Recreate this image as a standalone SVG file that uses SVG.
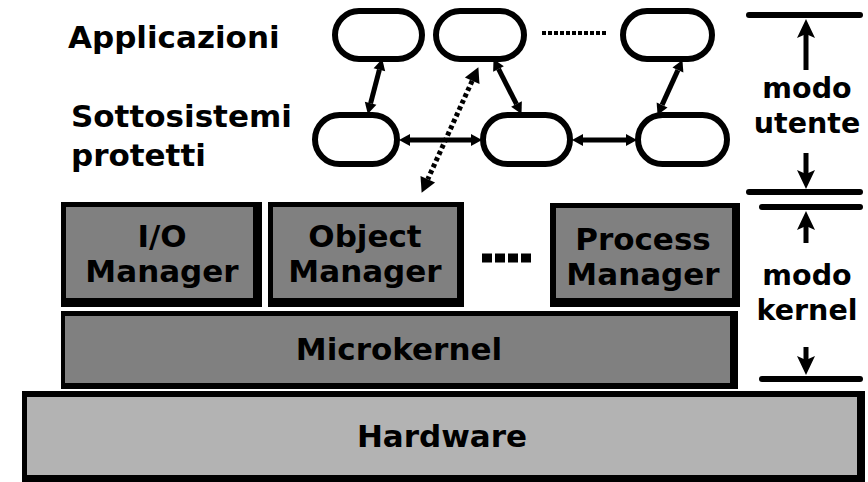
<svg xmlns="http://www.w3.org/2000/svg" width="868" height="482" viewBox="0 0 868 482">
  <style>
    .lbl { font-family: "DejaVu Sans", Verdana, sans-serif; font-weight: bold; fill: #000; }
    .big { font-size: 31px; }
    .side { font-size: 28.5px; text-anchor: middle; }
    .mid { text-anchor: middle; }
    .pill { fill: #fff; stroke: #000; stroke-width: 6; }
    .shadow { fill: #000; }
    .dark { fill: #808080; }
    .light { fill: #b3b3b3; }
    .link { stroke: #000; stroke-width: 5; fill: none; marker-start: url(#head); marker-end: url(#head); }
    .dotted { stroke: #000; stroke-width: 5; fill: none; stroke-dasharray: 4 3; marker-start: url(#bighead); marker-end: url(#bighead); }
    .bar { stroke: #000; stroke-width: 6; stroke-linecap: round; }
    .shaft { stroke: #000; stroke-width: 5; }
    .tip { fill: #000; }
  </style>
  <defs>
    <marker id="head" markerUnits="userSpaceOnUse" markerWidth="12" markerHeight="12" refX="0" refY="6" orient="auto-start-reverse" overflow="visible">
      <path d="M0,0 L11,6 L0,12 Z" fill="#000"/>
    </marker>
    <marker id="bighead" markerUnits="userSpaceOnUse" markerWidth="16" markerHeight="16" refX="0" refY="8" orient="auto-start-reverse" overflow="visible">
      <path d="M0,0 L15,8 L0,16 Z" fill="#000"/>
    </marker>
  </defs>

  <!-- left captions -->
  <text class="lbl big" x="68" y="48">Applicazioni</text>
  <text class="lbl big" x="71" y="127">Sottosistemi</text>
  <text class="lbl big" x="71" y="166">protetti</text>

  <!-- user-mode processes -->
  <g id="app1"><rect class="pill" x="335" y="11" width="87" height="48" rx="24"/></g>
  <g id="app2"><rect class="pill" x="436" y="11" width="88" height="48" rx="24"/></g>
  <g id="app3"><rect class="pill" x="623" y="11" width="89" height="48" rx="24"/></g>
  <g id="sub1"><rect class="pill" x="315" y="115" width="82" height="49" rx="24.5"/></g>
  <g id="sub2"><rect class="pill" x="483" y="115" width="87" height="49" rx="24.5"/></g>
  <g id="sub3"><rect class="pill" x="638" y="115" width="89" height="49" rx="24.5"/></g>
  <line x1="542" y1="33" x2="608" y2="33" stroke="#000" stroke-width="4" stroke-dasharray="4 2"/>

  <!-- kernel-mode managers -->
  <g id="io-manager">
    <rect class="shadow" x="61" y="202" width="201" height="105"/>
    <rect class="dark" x="66" y="207" width="187" height="91"/>
    <text class="lbl big mid" x="162" y="247">I/O</text>
    <text class="lbl big mid" x="162" y="282">Manager</text>
  </g>
  <g id="object-manager">
    <rect class="shadow" x="268" y="202" width="196" height="105"/>
    <rect class="dark" x="273" y="207" width="184" height="91"/>
    <text class="lbl big mid" x="365" y="247">Object</text>
    <text class="lbl big mid" x="365" y="282">Manager</text>
  </g>
  <g id="process-manager">
    <rect class="shadow" x="550" y="203" width="190" height="104"/>
    <rect class="dark" x="556" y="208" width="176" height="90"/>
    <text class="lbl big mid" x="643" y="250">Process</text>
    <text class="lbl big mid" x="643" y="285">Manager</text>
  </g>
  <line x1="482" y1="258" x2="533" y2="258" stroke="#000" stroke-width="9" stroke-dasharray="10 3"/>

  <g id="microkernel">
    <rect class="shadow" x="61" y="311" width="677" height="78"/>
    <rect class="dark" x="65" y="316" width="665" height="67"/>
    <text class="lbl big mid" x="399" y="360">Microkernel</text>
  </g>
  <g id="hardware">
    <rect class="shadow" x="22" y="391" width="843" height="91"/>
    <rect class="light" x="27" y="397" width="830" height="78"/>
    <text class="lbl big mid" x="442" y="447">Hardware</text>
  </g>

  <!-- connectors -->
  <g id="connectors">
    <line class="link" x1="379.4" y1="69.7" x2="370.6" y2="103.3"/>
    <line class="link" x1="498.5" y1="68.9" x2="516.5" y2="104.1"/>
    <line class="link" x1="677.9" y1="70.1" x2="662.1" y2="104.9"/>
    <line class="link" x1="410" y1="140" x2="471" y2="140"/>
    <line class="link" x1="583" y1="140" x2="626" y2="140"/>
    <line class="dotted" x1="472.2" y1="80.8" x2="427.8" y2="179.2"/>
  </g>

  <!-- privilege-level scale -->
  <g id="mode-scale">
    <line class="bar" x1="749" y1="15" x2="860" y2="15"/>
    <line class="shaft" x1="806" y1="34" x2="806" y2="70"/>
    <polygon class="tip" points="806,19 815,38 806,34 797,38"/>
    <line class="shaft" x1="806" y1="153" x2="806" y2="174"/>
    <polygon class="tip" points="806,189 815,170 806,174 797,170"/>
    <line class="bar" x1="749" y1="192" x2="860" y2="192"/>
    <line class="bar" x1="762" y1="207" x2="860" y2="207"/>
    <line class="shaft" x1="806" y1="226" x2="806" y2="243"/>
    <polygon class="tip" points="806,211 815,230 806,226 797,230"/>
    <line class="shaft" x1="806" y1="347" x2="806" y2="360"/>
    <polygon class="tip" points="806,375 815,356 806,360 797,356"/>
    <line class="bar" x1="762" y1="379" x2="860" y2="379"/>
    <text class="lbl side" x="807" y="98">modo</text>
    <text class="lbl side" x="807" y="133">utente</text>
    <text class="lbl side" x="807" y="285">modo</text>
    <text class="lbl side" x="807" y="320">kernel</text>
  </g>
</svg>
